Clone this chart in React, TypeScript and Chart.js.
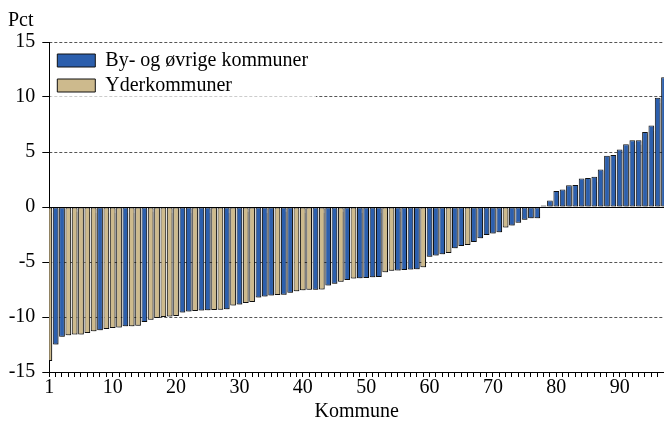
import React, { useEffect, useRef } from 'react';
import { Chart, registerables } from 'chart.js';

Chart.register(...registerables);

// Percent change per kommune, sorted ascending
const VALUES: number[] = [
  -14.0, -12.5, -11.8, -11.65, -11.6, -11.6, -11.45, -11.3, -11.2, -11.1,
  -11.0, -10.95, -10.85, -10.85, -10.8, -10.45, -10.25, -10.1, -10.0, -9.95,
  -9.9, -9.6, -9.5, -9.45, -9.4, -9.38, -9.37, -9.33, -9.3, -8.95,
  -8.87, -8.72, -8.63, -8.22, -8.13, -8.04, -8.0, -7.97, -7.8, -7.65,
  -7.56, -7.53, -7.52, -7.5, -7.13, -6.98, -6.8, -6.64, -6.5, -6.47,
  -6.46, -6.39, -6.37, -5.93, -5.8, -5.78, -5.72, -5.68, -5.66, -5.48,
  -4.52, -4.42, -4.3, -4.18, -3.76, -3.55, -3.45, -3.19, -2.85, -2.55,
  -2.4, -2.3, -1.87, -1.68, -1.44, -1.15, -1.03, -1.02, 0.14, 0.6,
  1.45, 1.6, 1.97, 2.0, 2.58, 2.64, 2.76, 3.4, 4.65, 4.72,
  5.23, 5.71, 6.06, 6.06, 6.82, 7.4, 9.94, 11.8,
];

// B = By- og øvrige kommuner, Y = Yderkommuner
const GROUPS: string[] = [
  'Y', 'B', 'B', 'Y', 'Y', 'Y', 'Y', 'Y', 'B', 'Y',
  'Y', 'Y', 'B', 'Y', 'Y', 'B', 'Y', 'Y', 'Y', 'Y',
  'Y', 'B', 'B', 'Y', 'B', 'B', 'Y', 'Y', 'B', 'Y',
  'B', 'Y', 'Y', 'B', 'B', 'B', 'Y', 'B', 'B', 'Y',
  'Y', 'Y', 'B', 'Y', 'B', 'B', 'Y', 'B', 'Y', 'B',
  'B', 'B', 'B', 'Y', 'Y', 'B', 'B', 'B', 'B', 'Y',
  'B', 'B', 'B', 'Y', 'B', 'B', 'Y', 'B', 'B', 'B',
  'B', 'B', 'Y', 'B', 'B', 'B', 'B', 'B', 'B', 'B',
  'B', 'B', 'B', 'B', 'B', 'B', 'B', 'B', 'B', 'B',
  'B', 'B', 'B', 'B', 'B', 'B', 'B', 'B',
];

const SERIES_NAMES = ['By- og øvrige kommuner', 'Yderkommuner'];
const SERIES_COLORS = ['#2C5FAD', '#CDBA8D'];

const X_TICK_POS = [0, 10, 20, 30, 40, 50, 60, 70, 80, 90];
const X_TICK_TEXT = ['1', '10', '20', '30', '40', '50', '60', '70', '80', '90'];

const Y_MIN = -15;
const Y_MAX = 15;
const Y_STEP = 5;

const FONT = "'Liberation Serif', 'Times New Roman', serif";

export default function App() {
  const ref = useRef<HTMLCanvasElement>(null);

  useEffect(() => {
    document.body.style.margin = '0';
    const canvas = ref.current;
    if (!canvas) return;

    const labels = VALUES.map((_, i) => String(i + 1));
    const blue = VALUES.map((v, i) => (GROUPS[i] === 'B' ? v : null));
    const tan = VALUES.map((v, i) => (GROUPS[i] === 'Y' ? v : null));
    const tickText = new Map<number, string>(X_TICK_POS.map((p, i) => [p, X_TICK_TEXT[i]]));

    const decor = {
      id: 'decor',
      afterLayout(chart: any) {
        const lg = chart.legend;
        if (lg) {
          const a = chart.chartArea;
          lg.left = a.left + 3;
          lg.top = a.top + 3.5;
        }
      },
      beforeDraw(chart: any) {
        const { ctx, chartArea: a, scales } = chart;
        const y = scales.y;
        ctx.save();
        ctx.strokeStyle = '#555';
        ctx.lineWidth = 1;
        ctx.setLineDash([3, 2]);
        y.ticks.forEach((t: any) => {
          if (t.value === 0 || t.value === y.min) return;
          const py = Math.floor(y.getPixelForValue(t.value)) + 0.5;
          ctx.beginPath();
          ctx.moveTo(a.left, py);
          ctx.lineTo(a.right, py);
          ctx.stroke();
        });
        ctx.restore();
        const lg = chart.legend;
        if (lg) {
          const n = lg.legendItems ? lg.legendItems.length : 2;
          ctx.save();
          ctx.fillStyle = 'rgba(255,255,255,0.7)';
          ctx.fillRect(lg.left - 2, lg.top, lg.width, n * 25 + 8);
          ctx.restore();
        }
      },
      beforeDatasetsDraw(chart: any) {
        const ctx = chart.ctx;
        ctx.save();
        ctx.shadowColor = 'rgba(0,0,0,0.3)';
        ctx.shadowOffsetX = 1.5;
        ctx.shadowOffsetY = 1.5;
        ctx.shadowBlur = 1;
      },
      afterDatasetsDraw(chart: any) {
        const { ctx, chartArea: a, scales } = chart;
        ctx.restore();
        const py = Math.floor(scales.y.getPixelForValue(0)) + 0.5;
        ctx.save();
        ctx.strokeStyle = '#000';
        ctx.lineWidth = 1;
        ctx.beginPath();
        ctx.moveTo(a.left, py);
        ctx.lineTo(a.right, py);
        ctx.stroke();
        ctx.restore();
      },
    };

    const chart = new Chart(canvas, {
      type: 'bar',
      data: {
        labels,
        datasets: [
          {
            label: SERIES_NAMES[0],
            data: blue,
            backgroundColor: SERIES_COLORS[0],
            borderColor: '#111',
            borderWidth: 1,
            borderSkipped: false,
            barPercentage: 0.9,
            categoryPercentage: 1,
            grouped: false,
            clip: 0,
          } as any,
          {
            label: SERIES_NAMES[1],
            data: tan,
            backgroundColor: SERIES_COLORS[1],
            borderColor: '#111',
            borderWidth: 1,
            borderSkipped: false,
            barPercentage: 0.9,
            categoryPercentage: 1,
            grouped: false,
            clip: 0,
          } as any,
        ],
      },
      options: {
        responsive: false,
        animation: false,
        devicePixelRatio: 1,
        layout: { padding: { left: 8, top: 0, right: 0, bottom: 0 } },
        plugins: {
          title: {
            display: true,
            text: 'Pct',
            align: 'start',
            color: '#000',
            font: { family: FONT, size: 20, weight: 'normal', lineHeight: 1.2 },
            padding: { top: 9, bottom: 9 },
          },
          legend: {
            display: true,
            position: 'chartArea',
            align: 'start',
            labels: {
              boxWidth: 38,
              boxHeight: 13,
              padding: 5,
              color: '#000',
              font: { family: FONT, size: 20 },
            },
          },
          tooltip: { enabled: false },
        },
        scales: {
          x: {
            type: 'category',
            offset: false,
            grid: {
              offset: false,
              drawOnChartArea: false,
              drawTicks: true,
              tickLength: 5,
              tickColor: '#000',
            },
            border: { display: true, color: '#000', width: 1 },
            ticks: {
              autoSkip: false,
              maxRotation: 0,
              minRotation: 0,
              padding: -1,
              color: '#000',
              font: { family: FONT, size: 20 },
              callback: (_v: any, i: number) => tickText.get(i) ?? '',
            },
            title: {
              display: true,
              text: 'Kommune',
              color: '#000',
              font: { family: FONT, size: 20, lineHeight: 1.2 },
              padding: { top: 0, bottom: 0 },
            },
            afterFit: (scale: any) => {
              scale.height = 52;
            },
          },
          y: {
            min: Y_MIN,
            max: Y_MAX,
            grid: {
              drawOnChartArea: false,
              drawTicks: true,
              tickLength: 7,
              tickColor: '#000',
            },
            border: { display: true, color: '#000', width: 1 },
            ticks: {
              stepSize: Y_STEP,
              padding: 7,
              color: '#000',
              font: { family: FONT, size: 20 },
              callback: (v: any) => String(v),
            },
            afterFit: (scale: any) => {
              scale.width = 41.3;
            },
          },
        },
      } as any,
      plugins: [decor],
    });

    return () => {
      chart.destroy();
    };
  }, []);

  return (
    <div style={{ width: 664, height: 424, position: 'relative' }}>
      <canvas ref={ref} width={664} height={424} style={{ display: 'block' }} />
    </div>
  );
}
